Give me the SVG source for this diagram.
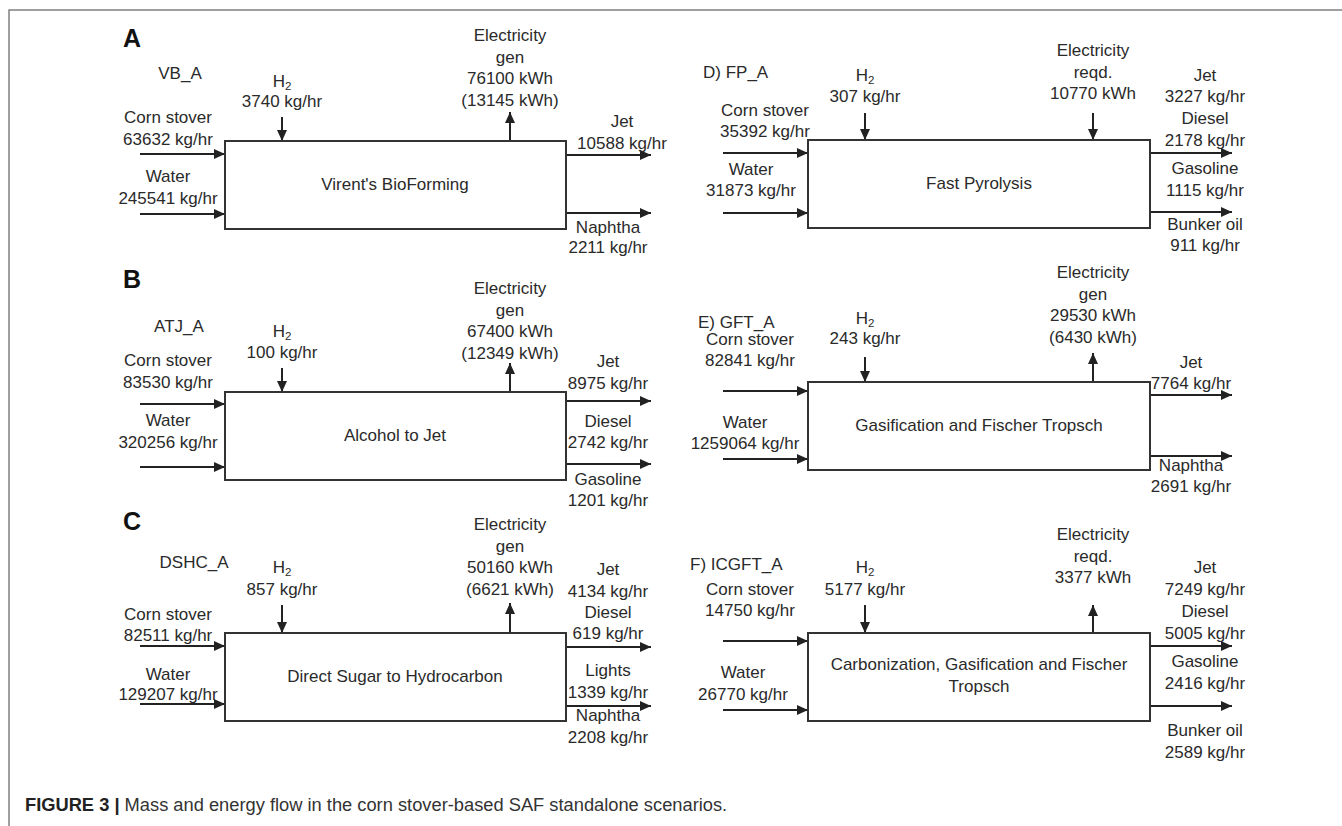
<svg xmlns="http://www.w3.org/2000/svg" width="1342" height="826" viewBox="0 0 1342 826">
<defs>
<marker id="ah" markerUnits="userSpaceOnUse" markerWidth="12" markerHeight="10" refX="11" refY="5" orient="auto">
<path d="M0,0 L11,5 L0,10 Z" fill="#222"/>
</marker>
<style>
text{font-family:"Liberation Sans",Arial,sans-serif;font-size:17px;fill:#2a2a2a}
.m{text-anchor:middle}
.lbl{font-size:25px;font-weight:bold;fill:#111}
.box{fill:#fff;stroke:#333;stroke-width:2}
.ar{stroke:#222;stroke-width:2;fill:none;marker-end:url(#ah)}
.sub{font-size:11.5px}
.cap{font-size:18.3px;fill:#333}
</style>
</defs>
<rect width="1342" height="826" fill="#fff"/>
<path d="M9,826 V10 H1342" fill="none" stroke="#808080" stroke-width="1.5"/>

<g id="connectors">
<!-- A -->
<line class="ar" x1="282" y1="117" x2="282" y2="141"/>
<line class="ar" x1="140" y1="154" x2="225" y2="154"/>
<line class="ar" x1="140" y1="214" x2="225" y2="214"/>
<line class="ar" x1="510" y1="141" x2="510" y2="112"/>
<line class="ar" x1="566" y1="155" x2="651" y2="155"/>
<line class="ar" x1="566" y1="213" x2="651" y2="213"/>
<!-- D -->
<line class="ar" x1="865" y1="113" x2="865" y2="140"/>
<line class="ar" x1="723" y1="153" x2="808" y2="153"/>
<line class="ar" x1="723" y1="213" x2="808" y2="213"/>
<line class="ar" x1="1093" y1="113" x2="1093" y2="140"/>
<line class="ar" x1="1150" y1="153" x2="1232" y2="153"/>
<line class="ar" x1="1150" y1="212" x2="1232" y2="212"/>
<!-- B -->
<line class="ar" x1="282" y1="368" x2="282" y2="392"/>
<line class="ar" x1="140" y1="404" x2="225" y2="404"/>
<line class="ar" x1="140" y1="467" x2="225" y2="467"/>
<line class="ar" x1="510" y1="392" x2="510" y2="363"/>
<line class="ar" x1="566" y1="401" x2="651" y2="401"/>
<line class="ar" x1="566" y1="464" x2="651" y2="464"/>
<!-- E -->
<line class="ar" x1="865" y1="357" x2="865" y2="382"/>
<line class="ar" x1="723" y1="391" x2="808" y2="391"/>
<line class="ar" x1="723" y1="459" x2="808" y2="459"/>
<line class="ar" x1="1093" y1="382" x2="1093" y2="353"/>
<line class="ar" x1="1150" y1="395" x2="1232" y2="395"/>
<line class="ar" x1="1150" y1="456" x2="1232" y2="456"/>
<!-- C -->
<line class="ar" x1="282" y1="605" x2="282" y2="633"/>
<line class="ar" x1="140" y1="646" x2="225" y2="646"/>
<line class="ar" x1="140" y1="704" x2="225" y2="704"/>
<line class="ar" x1="510" y1="633" x2="510" y2="603"/>
<line class="ar" x1="566" y1="647" x2="651" y2="647"/>
<line class="ar" x1="566" y1="706" x2="651" y2="706"/>
<!-- F -->
<line class="ar" x1="865" y1="605" x2="865" y2="633"/>
<line class="ar" x1="723" y1="641" x2="808" y2="641"/>
<line class="ar" x1="723" y1="710" x2="808" y2="710"/>
<line class="ar" x1="1093" y1="633" x2="1093" y2="605"/>
<line class="ar" x1="1150" y1="646" x2="1232" y2="646"/>
<line class="ar" x1="1150" y1="706" x2="1232" y2="706"/>
</g>

<g id="panelA">
<text class="lbl" x="123" y="47">A</text>
<text class="m" x="180" y="79">VB_A</text>
<text class="m" x="282" y="86.5">H<tspan class="sub" dy="3">2</tspan></text>
<text class="m" x="282" y="107">3740 kg/hr</text>
<text class="m" x="168" y="123">Corn stover</text>
<text class="m" x="168" y="144.5">63632 kg/hr</text>
<text class="m" x="168" y="182">Water</text>
<text class="m" x="168" y="203.5">245541 kg/hr</text>
<rect class="box" x="225" y="141" width="341" height="88"/>
<text class="m" x="395" y="190">Virent's BioForming</text>
<text class="m" x="510" y="41">Electricity</text>
<text class="m" x="510" y="62.5">gen</text>
<text class="m" x="510" y="84">76100 kWh</text>
<text class="m" x="510" y="105.5">(13145 kWh)</text>
<text class="m" x="622" y="127">Jet</text>
<text class="m" x="622" y="148.5">10588 kg/hr</text>
<text class="m" x="608" y="233">Naphtha</text>
<text class="m" x="608" y="253">2211 kg/hr</text>
</g>

<g id="panelD">
<text x="703" y="78">D) FP_A</text>
<text class="m" x="865" y="80.5">H<tspan class="sub" dy="3">2</tspan></text>
<text class="m" x="865" y="102">307 kg/hr</text>
<text class="m" x="765" y="115.5">Corn stover</text>
<text class="m" x="765" y="136.5">35392 kg/hr</text>
<text class="m" x="751" y="175">Water</text>
<text class="m" x="751" y="196">31873 kg/hr</text>
<rect class="box" x="808" y="140" width="342" height="88"/>
<text class="m" x="979" y="189">Fast Pyrolysis</text>
<text class="m" x="1093" y="56">Electricity</text>
<text class="m" x="1093" y="77.5">reqd.</text>
<text class="m" x="1093" y="99">10770 kWh</text>
<text class="m" x="1205" y="80.5">Jet</text>
<text class="m" x="1205" y="102">3227 kg/hr</text>
<text class="m" x="1205" y="124">Diesel</text>
<text class="m" x="1205" y="145.5">2178 kg/hr</text>
<text class="m" x="1205" y="174">Gasoline</text>
<text class="m" x="1205" y="195.5">1115 kg/hr</text>
<text class="m" x="1205" y="229.5">Bunker oil</text>
<text class="m" x="1205" y="251">911 kg/hr</text>
</g>

<g id="panelB">
<text class="lbl" x="123" y="288">B</text>
<text class="m" x="179" y="332">ATJ_A</text>
<text class="m" x="282" y="336.5">H<tspan class="sub" dy="3">2</tspan></text>
<text class="m" x="282" y="357.5">100 kg/hr</text>
<text class="m" x="168" y="366">Corn stover</text>
<text class="m" x="168" y="387.5">83530 kg/hr</text>
<text class="m" x="168" y="426">Water</text>
<text class="m" x="168" y="447.5">320256 kg/hr</text>
<rect class="box" x="225" y="392" width="341" height="88"/>
<text class="m" x="395" y="441">Alcohol to Jet</text>
<text class="m" x="510" y="294">Electricity</text>
<text class="m" x="510" y="315.5">gen</text>
<text class="m" x="510" y="337">67400 kWh</text>
<text class="m" x="510" y="358.5">(12349 kWh)</text>
<text class="m" x="608" y="367">Jet</text>
<text class="m" x="608" y="388.5">8975 kg/hr</text>
<text class="m" x="608" y="426.5">Diesel</text>
<text class="m" x="608" y="448">2742 kg/hr</text>
<text class="m" x="608" y="485">Gasoline</text>
<text class="m" x="608" y="506">1201 kg/hr</text>
</g>

<g id="panelE">
<text x="698" y="328">E) GFT_A</text>
<text class="m" x="865" y="323.5">H<tspan class="sub" dy="3">2</tspan></text>
<text class="m" x="865" y="344">243 kg/hr</text>
<text class="m" x="750" y="344.5">Corn stover</text>
<text class="m" x="750" y="366">82841 kg/hr</text>
<text class="m" x="745" y="427.5">Water</text>
<text class="m" x="745" y="449">1259064 kg/hr</text>
<rect class="box" x="808" y="382" width="342" height="88"/>
<text class="m" x="979" y="431">Gasification and Fischer Tropsch</text>
<text class="m" x="1093" y="278">Electricity</text>
<text class="m" x="1093" y="299.5">gen</text>
<text class="m" x="1093" y="321">29530 kWh</text>
<text class="m" x="1093" y="342.5">(6430 kWh)</text>
<text class="m" x="1191" y="367.5">Jet</text>
<text class="m" x="1191" y="389">7764 kg/hr</text>
<text class="m" x="1191" y="471">Naphtha</text>
<text class="m" x="1191" y="492">2691 kg/hr</text>
</g>

<g id="panelC">
<text class="lbl" x="123" y="530">C</text>
<text class="m" x="194" y="568">DSHC_A</text>
<text class="m" x="282" y="573">H<tspan class="sub" dy="3">2</tspan></text>
<text class="m" x="282" y="594.5">857 kg/hr</text>
<text class="m" x="168" y="620">Corn stover</text>
<text class="m" x="168" y="641">82511 kg/hr</text>
<text class="m" x="168" y="680">Water</text>
<text class="m" x="168" y="700">129207 kg/hr</text>
<rect class="box" x="225" y="633" width="341" height="88"/>
<text class="m" x="395" y="682">Direct Sugar to Hydrocarbon</text>
<text class="m" x="510" y="530">Electricity</text>
<text class="m" x="510" y="551.5">gen</text>
<text class="m" x="510" y="573">50160 kWh</text>
<text class="m" x="510" y="594.5">(6621 kWh)</text>
<text class="m" x="608" y="575">Jet</text>
<text class="m" x="608" y="596.5">4134 kg/hr</text>
<text class="m" x="608" y="618">Diesel</text>
<text class="m" x="608" y="639">619 kg/hr</text>
<text class="m" x="608" y="676">Lights</text>
<text class="m" x="608" y="697.5">1339 kg/hr</text>
<text class="m" x="608" y="721">Naphtha</text>
<text class="m" x="608" y="742.5">2208 kg/hr</text>
</g>

<g id="panelF">
<text x="690" y="570">F) ICGFT_A</text>
<text class="m" x="865" y="573">H<tspan class="sub" dy="3">2</tspan></text>
<text class="m" x="865" y="594.5">5177 kg/hr</text>
<text class="m" x="750" y="595">Corn stover</text>
<text class="m" x="750" y="616">14750 kg/hr</text>
<text class="m" x="743" y="678">Water</text>
<text class="m" x="743" y="700">26770 kg/hr</text>
<rect class="box" x="808" y="633" width="342" height="88"/>
<text class="m" x="979" y="670">Carbonization, Gasification and Fischer</text>
<text class="m" x="979" y="691.5">Tropsch</text>
<text class="m" x="1093" y="540">Electricity</text>
<text class="m" x="1093" y="561.5">reqd.</text>
<text class="m" x="1093" y="583">3377 kWh</text>
<text class="m" x="1205" y="573">Jet</text>
<text class="m" x="1205" y="595">7249 kg/hr</text>
<text class="m" x="1205" y="617">Diesel</text>
<text class="m" x="1205" y="638.5">5005 kg/hr</text>
<text class="m" x="1205" y="667">Gasoline</text>
<text class="m" x="1205" y="688.5">2416 kg/hr</text>
<text class="m" x="1205" y="736">Bunker oil</text>
<text class="m" x="1205" y="757.5">2589 kg/hr</text>
</g>

<g id="caption">
<text class="cap" x="25" y="811"><tspan font-weight="bold" fill="#222">FIGURE 3 | </tspan>Mass and energy flow in the corn stover-based SAF standalone scenarios.</text>
</g>
</svg>
